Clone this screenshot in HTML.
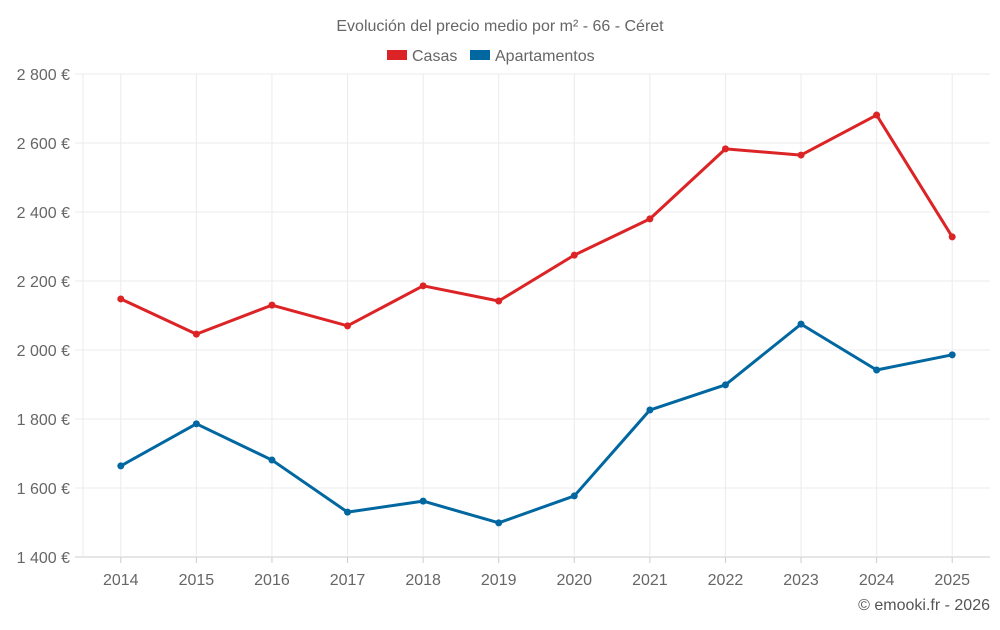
<!DOCTYPE html>
<html><head><meta charset="utf-8"><style>
body{margin:0;background:#fff;font-family:"Liberation Sans",sans-serif}
svg text{font-family:"Liberation Sans",sans-serif}
</style></head><body>
<svg id="chart" width="1000" height="625">
<text x="500" y="31" text-anchor="middle" font-size="16" fill="#666">Evolución del precio medio por m² - 66 - Céret</text>
<g>
<g><rect x="387" y="50" width="20" height="10" fill="#dc2426"></rect><text x="412" y="61" font-size="16" fill="#666">Casas</text></g>
<g><rect x="470" y="50" width="20" height="10" fill="#0067a0"></rect><text x="495" y="61" font-size="16" fill="#666">Apartamentos</text></g>
</g>
<g id="grid"></g><g id="marks"></g>
<text x="990" y="610" text-anchor="end" font-size="16" fill="#555">© emooki.fr - 2026</text>
</svg>
<script>
const years=["2014","2015","2016","2017","2018","2019","2020","2021","2022","2023","2024","2025"];
const casas=[2148,2046,2130,2070,2186,2142,2275,2380,2583,2565,2681,2328];
const apartamentos=[1664,1786,1681,1530,1562,1499,1577,1826,1899,2075,1942,1986];
const yTicks=[1400,1600,1800,2000,2200,2400,2600,2800];
const yLabels=["1 400 €","1 600 €","1 800 €","2 000 €","2 200 €","2 400 €","2 600 €","2 800 €"];
const L=83,R=990,T=74,B=557,ymin=1400,ymax=2800;
const bw=(R-L)/years.length;
const x=i=>L+bw*(i+0.5);
const y=v=>B-(v-ymin)/(ymax-ymin)*(B-T);
const NS="http://www.w3.org/2000/svg";
const g=document.getElementById('grid'),m=document.getElementById('marks');
function mk(p,t,a){const e=document.createElementNS(NS,t);for(const k in a)e.setAttribute(k,a[k]);p.appendChild(e);return e;}
yTicks.forEach((v,i)=>{
 const l=mk(g,'line',{x1:75,x2:R,y1:y(v),y2:y(v),stroke:i==0?'#ccc':'#ebebeb'});
 
 
 const t=mk(g,'text',{x:70,y:y(v)+6,'text-anchor':'end','font-size':16,fill:'#666'});
 t.textContent=yLabels[i];
 
 
});
const edge=mk(g,'line',{x1:L,x2:L,y1:T,y2:B,stroke:'#ebebeb'});


years.forEach((yr,i)=>{
 const l=mk(g,'line',{x1:x(i),x2:x(i),y1:T,y2:B,stroke:'#ebebeb'});
 
 
 const k=mk(g,'line',{x1:x(i),x2:x(i),y1:B,y2:B+6,stroke:'#ccc'});
 
 
 const t=mk(g,'text',{x:x(i),y:585,'text-anchor':'middle','font-size':16,fill:'#666'});
 t.textContent=yr;
 
 
});
function series(vals,color,name){
 const p=mk(m,'polyline',{points:vals.map((v,i)=>x(i)+','+y(v)).join(' '),fill:'none',stroke:color,'stroke-width':3,'stroke-linejoin':'round'});
 
 
 vals.forEach((v,i)=>{
  const c=mk(m,'circle',{cx:x(i),cy:y(v),r:3.5,fill:color});
  
  
 });
}
series(casas,'#dc2426','casas');
series(apartamentos,'#0067a0','apartamentos');
</script>
</body></html>
